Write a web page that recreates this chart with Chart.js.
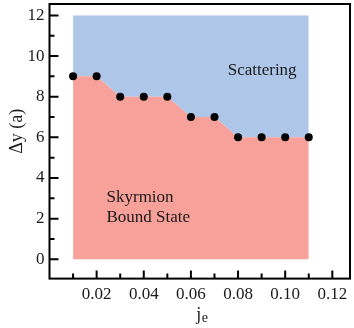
<!DOCTYPE html>
<html>
<head>
<meta charset="utf-8">
<script src="https://cdn.jsdelivr.net/npm/chart.js@4"></script>
<style>
  html, body { margin: 0; padding: 0; background: #fff; }
  canvas { display: block; }
</style>
</head>
<body>
<canvas id="phase" width="354" height="328"></canvas>
<script>
// current density j_e and critical separation Δy (in lattice units a)
const jValues = [0.01, 0.02, 0.03, 0.04, 0.05, 0.06, 0.07, 0.08, 0.09, 0.10, 0.11];
const boundaryDy = [9, 9, 8, 8, 8, 7, 7, 6, 6, 6, 6];
const scatteringTop = [12, 12, 12, 12, 12, 12, 12, 12, 12, 12, 12];

const xTickLabels = [0.02, 0.04, 0.06, 0.08, 0.10, 0.12];
const xMinorTicks = [0.01, 0.03, 0.05, 0.07, 0.09, 0.11];
const yTickLabels = [0, 2, 4, 6, 8, 10, 12];
const yMinorTicks = [1, 3, 5, 7, 9, 11];

const serif = "'Liberation Serif', 'DejaVu Serif', serif";
const ink = "#1a1a1a";

// frame, inward ticks, titles and region labels
const decorations = {
  id: "decorations",
  afterDatasetsDraw(chart) {
    const { ctx, scales: { x, y } } = chart;
    ctx.save();
    ctx.fillStyle = ink;
    ctx.font = "17px " + serif;
    ctx.textAlign = "left";
    ctx.textBaseline = "alphabetic";
    ctx.fillText("Scattering", x.getPixelForValue(0.0756), y.getPixelForValue(9.07));
    ctx.fillText("Skyrmion", x.getPixelForValue(0.0242), y.getPixelForValue(2.81));
    ctx.fillText("Bound State", x.getPixelForValue(0.0242), y.getPixelForValue(1.83));
    ctx.restore();
  },
  afterDraw(chart) {
    const { ctx, chartArea: a, scales: { x, y } } = chart;
    ctx.save();
    ctx.strokeStyle = "#000";
    ctx.lineWidth = 2;
    ctx.strokeRect(a.left, a.top, a.right - a.left, a.bottom - a.top);

    ctx.beginPath();
    yTickLabels.forEach(v => {
      const py = y.getPixelForValue(v);
      ctx.moveTo(a.left, py); ctx.lineTo(a.left + 9, py);
    });
    yMinorTicks.forEach(v => {
      const py = y.getPixelForValue(v);
      ctx.moveTo(a.left, py); ctx.lineTo(a.left + 5, py);
    });
    xTickLabels.forEach(v => {
      const px = x.getPixelForValue(v);
      ctx.moveTo(px, a.bottom); ctx.lineTo(px, a.bottom - 8);
    });
    xMinorTicks.forEach(v => {
      const px = x.getPixelForValue(v);
      ctx.moveTo(px, a.bottom); ctx.lineTo(px, a.bottom - 5);
    });
    ctx.stroke();

    // y title
    ctx.fillStyle = ink;
    ctx.font = "18px " + serif;
    ctx.textAlign = "center";
    ctx.textBaseline = "middle";
    ctx.translate(17, (a.top + a.bottom) / 2 - 10);
    ctx.rotate(-Math.PI / 2);
    ctx.fillText("Δy (a)", 0, 0);
    ctx.restore();

    // x title j_e with subscript
    ctx.save();
    ctx.fillStyle = ink;
    ctx.textAlign = "left";
    ctx.textBaseline = "alphabetic";
    ctx.font = "18px " + serif;
    const wj = ctx.measureText("j").width;
    ctx.font = "14px " + serif;
    const we = ctx.measureText("e").width;
    const cx = (a.left + a.right) / 2 + 2;
    const left = cx - (wj + we) / 2;
    ctx.font = "18px " + serif;
    ctx.fillText("j", left, 320);
    ctx.font = "14px " + serif;
    ctx.fillText("e", left + wj + 0.5, 322);
    ctx.restore();
  }
};

new Chart(document.getElementById("phase"), {
  type: "line",
  data: {
    labels: jValues,
    datasets: [
      {
        label: "boundary",
        data: jValues.map((j, i) => ({ x: j, y: boundaryDy[i] })),
        borderColor: "rgba(0,0,0,0)",
        borderWidth: 0,
        backgroundColor: "#f8a09a",
        fill: { value: 0 },
        pointRadius: 4,
        pointBackgroundColor: "#000",
        pointBorderColor: "#000",
        pointBorderWidth: 0,
        tension: 0
      },
      {
        label: "scattering",
        data: jValues.map((j, i) => ({ x: j, y: scatteringTop[i] })),
        borderColor: "rgba(0,0,0,0)",
        borderWidth: 0,
        backgroundColor: "#aec6e8",
        fill: "-1",
        pointRadius: 0,
        tension: 0
      }
    ]
  },
  options: {
    responsive: false,
    devicePixelRatio: 1,
    animation: false,
    layout: { padding: { left: 0, right: 2.8, top: 2.8, bottom: 0 } },
    plugins: { legend: { display: false }, tooltip: { enabled: false } },
    scales: {
      x: {
        type: "linear",
        min: 0,
        max: 0.1275,
        grid: { display: false, drawTicks: false },
        border: { display: false },
        afterBuildTicks: s => { s.ticks = xTickLabels.map(v => ({ value: v })); },
        afterFit: s => { s.height = 49.4; s.paddingLeft = 0; s.paddingRight = 0; },
        ticks: {
          autoSkip: false,
          maxRotation: 0,
          padding: 6,
          color: ink,
          font: { family: serif, size: 17 },
          callback: v => v.toFixed(2)
        }
      },
      y: {
        type: "linear",
        min: -0.95,
        max: 12.56,
        grid: { display: false, drawTicks: false },
        border: { display: false },
        afterBuildTicks: s => { s.ticks = yTickLabels.map(v => ({ value: v })); },
        afterFit: s => { s.width = 49.5; s.paddingTop = 0; s.paddingBottom = 0; },
        ticks: {
          autoSkip: false,
          padding: 5,
          color: ink,
          font: { family: serif, size: 17 },
          callback: v => String(v)
        }
      }
    }
  },
  plugins: [decorations]
});
</script>
</body>
</html>
